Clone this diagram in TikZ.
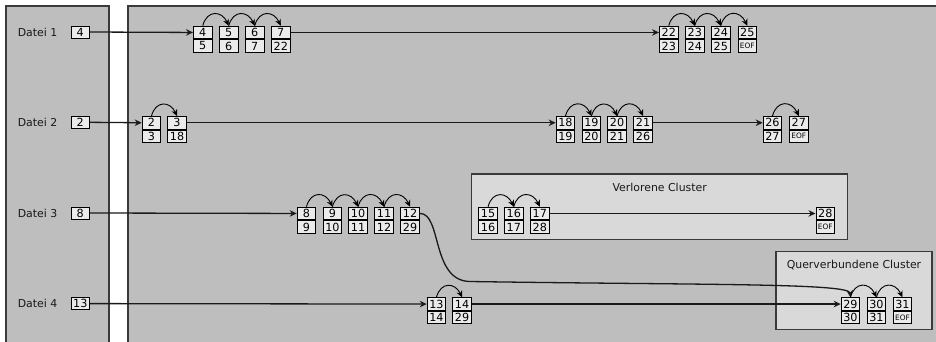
\documentclass[tikz,border=0pt]{standalone}
\usepackage{fontspec}
\setmainfont{DejaVu Sans}
\usetikzlibrary{arrows.meta}
\definecolor{panelgray}{HTML}{BEBEBE}
\definecolor{boxgray}{HTML}{D9D9D9}
\definecolor{cellgray}{HTML}{EBEBEB}
\definecolor{edgegray}{HTML}{3A3A3A}
\definecolor{linecol}{HTML}{1A1A1A}
\newcommand\eofsz{\fontsize{7.4}{8}\selectfont}
\newcommand\clus[5]{%
  \node[cellbox] (#1) at (#2,#3) {#4};
  \node[cellbox] (#1b) at (#1.south west) {#5};}
\tikzset{
  panel/.style={draw=edgegray, fill=panelgray, line width=1.4pt},
  grp/.style={draw=edgegray, fill=boxgray, line width=1.2pt},
  cellbox/.style={draw=black, fill=cellgray, line width=0.9pt, minimum width=18.6pt,
    minimum height=12.6pt, inner sep=0pt, anchor=north west,
    font=\fontsize{11.2}{12}\selectfont},
  filebox/.style={draw=black, fill=cellgray, line width=0.9pt, minimum width=18.6pt,
    minimum height=12pt, inner sep=0pt, font=\fontsize{11.2}{12}\selectfont},
  lbl/.style={inner sep=0pt, font=\fontsize{10.9}{12}\selectfont, text=black!90},
  conn/.style={draw=linecol, line width=1.3pt, -{Stealth[length=7pt,width=6.5pt]}},
  arcarrow/.style={draw=black, line width=0.9pt, -{Stealth[length=6.5pt,width=6pt]}}
}
\begin{document}
\begin{tikzpicture}[x=1pt,y=-1pt]
\useasboundingbox (0,0) rectangle (936,341);
\clip (0,0) rectangle (936,341);
% panels
\draw[panel] (6,6) rectangle (109,350);
\draw[panel] (128,6) rectangle (945,350);
% group boxes
\draw[grp] (471.7,174) rectangle (847.7,239.3);
\draw[grp] (776,251.7) rectangle (932,329.3);
\node[lbl] (tv) at (659.7,187) {Verlorene Cluster};
\node[lbl] (tq) at (854,265) {Querverbundene Cluster};
% file labels
\node[lbl] (d1) at (37.5,32) {Datei 1};
\node[lbl] (d2) at (37.5,122.3) {Datei 2};
\node[lbl] (d3) at (37.5,213) {Datei 3};
\node[lbl] (d4) at (37.5,303.6) {Datei 4};
\node[filebox] (f1) at (80.3,32) {4};
\node[filebox] (f2) at (80.3,122.3) {2};
\node[filebox] (f3) at (80.3,213) {8};
\node[filebox] (f4) at (80.3,303.6) {13};
% clusters row 1
\clus{c4}{193}{25.7}{4}{5}
\clus{c5}{219}{25.7}{5}{6}
\clus{c6}{245}{25.7}{6}{7}
\clus{c7}{271}{25.7}{7}{22}
\clus{c22}{659}{25.7}{22}{23}
\clus{c23}{685}{25.7}{23}{24}
\clus{c24}{711}{25.7}{24}{25}
\clus{c25}{737.5}{25.7}{25}{\eofsz EOF}
% row 2
\clus{c2}{141.7}{116}{2}{3}
\clus{c3}{167.3}{116}{3}{18}
\clus{c18}{555.7}{116}{18}{19}
\clus{c19}{581.7}{116}{19}{20}
\clus{c20}{607.3}{116}{20}{21}
\clus{c21}{633.3}{116}{21}{26}
\clus{c26}{762.7}{116}{26}{27}
\clus{c27}{789}{116}{27}{\eofsz EOF}
% row 3
\clus{c8}{296.7}{206.7}{8}{9}
\clus{c9}{322.7}{206.7}{9}{10}
\clus{c10}{348.3}{206.7}{10}{11}
\clus{c11}{374.3}{206.7}{11}{12}
\clus{c12}{400.3}{206.7}{12}{29}
\clus{c15}{478.3}{206.7}{15}{16}
\clus{c16}{504}{206.7}{16}{17}
\clus{c17}{530}{206.7}{17}{28}
\clus{c28}{815.5}{206.7}{28}{\eofsz EOF}
% row 4
\clus{c13}{426.7}{297.3}{13}{14}
\clus{c14}{452.3}{297.3}{14}{29}
\clus{c29}{840.7}{297.3}{29}{30}
\clus{c30}{866.7}{297.3}{30}{31}
\clus{c31}{892.7}{297.3}{31}{\eofsz EOF}
% connectors
\draw[conn] (f1.east) -- (c4.west);
\draw[conn] (c7.east) -- (c22.west);
\draw[conn] (f2.east) -- (c2.west);
\draw[conn] (c3.east) -- (c18.west);
\draw[conn] (c21.east) -- (c26.west);
\draw[conn] (f3.east) -- (c8.west);
\draw[conn] (c17.east) -- (c28.west);
\draw[conn] (f4.east) -- (c13.west);
\draw[conn] (c14.east) -- (c29.west);
\draw[conn] (c12.east) .. controls (442,213) and (431,281) .. (470,281.5)
  .. controls (700,285) and (849,283) .. (c29.north);
% arcs
\foreach \a/\b in {c4/c5,c5/c6,c6/c7,c22/c23,c23/c24,c24/c25,c2/c3,c18/c19,c19/c20,c20/c21,c26/c27,
  c8/c9,c9/c10,c10/c11,c11/c12,c15/c16,c16/c17,c13/c14,c29/c30,c30/c31}
  \draw[arcarrow] (\a.north) to[out=75,in=115,looseness=1.65] (\b.north);
\end{tikzpicture}
\end{document}
